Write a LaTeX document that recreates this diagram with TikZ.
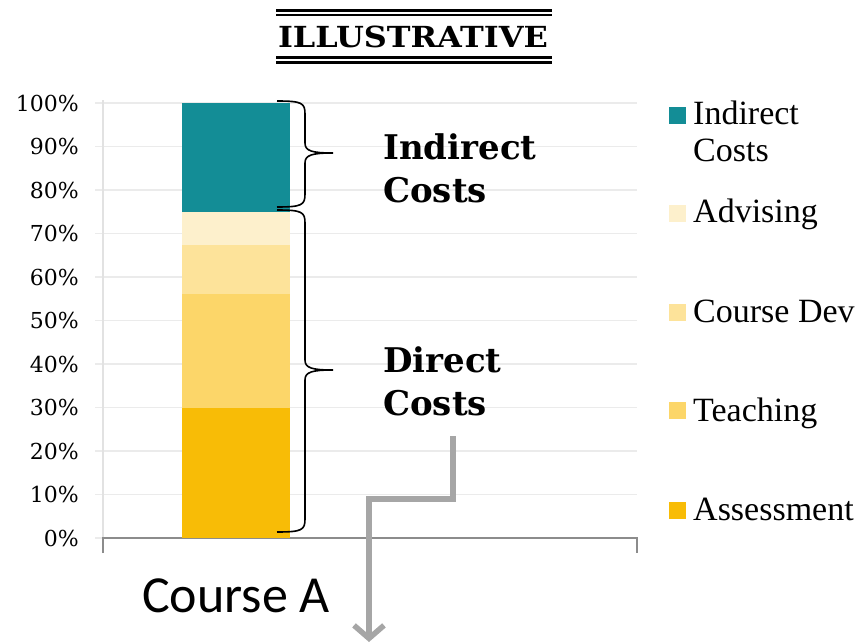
\documentclass[tikz,border=0pt]{standalone}
\usepackage{fontspec}
\setmainfont{Liberation Serif}
\newfontfamily\tickfont{DejaVu Serif}
\newfontfamily\headfont{DejaVu Serif}
\newfontfamily\titlefont[FakeStretch=1.1]{DejaVu Serif}
\newfontfamily\axisfont{Carlito}
\usetikzlibrary{arrows.meta}

\definecolor{indirect}{HTML}{138D96}
\definecolor{advising}{HTML}{FDF0CC}
\definecolor{coursedev}{HTML}{FDE39A}
\definecolor{teaching}{HTML}{FCD669}
\definecolor{assess}{HTML}{F8BC06}
\definecolor{gridgray}{HTML}{EBEBEB}
\definecolor{axisgray}{HTML}{8C8C8C}
\definecolor{arrowgray}{HTML}{A6A6A6}

\tikzset{
  ticklabel/.style={anchor=east, inner sep=0, font=\tickfont\fontsize{22}{24}\selectfont},
  legbox/.style={minimum size=17pt, inner sep=0},
  legtext/.style={anchor=base west, inner sep=0, align=left, font=\fontsize{34}{37}\selectfont},
  costlabel/.style={anchor=base west, inner sep=0, align=left, font=\headfont\bfseries\fontsize{34}{43}\selectfont},
  costbrace/.style={line width=1.6pt, black},
  leadarrow/.style={line width=5.5pt, arrowgray, -{Straight Barb[length=13pt,width=30pt]}}
}

% curly brace: top y, tip y, bottom y
\newcommand\bracepath[3]{%
  \draw[costbrace] (277,#1) .. controls (302,#1) and (305,#1+2) .. (305,#1+13)
    -- (305,#2-10) .. controls (305,#2-2) and (312,#2) .. (333,#2)
    .. controls (312,#2) and (305,#2+2) .. (305,#2+10)
    -- (305,#3-13) .. controls (305,#3-2) and (302,#3) .. (277,#3);}

\begin{document}
\begin{tikzpicture}[x=1pt, y=-1pt]
  \useasboundingbox (0,0) rectangle (859,644);

  % title with double rules
  \node[anchor=base, inner sep=0, font=\titlefont\bfseries\fontsize{29}{32}\selectfont] (title) at (413,48) {ILLUSTRATIVE};
  \draw[line width=2.6pt] (276,10.5) -- (552,10.5);
  \draw[line width=2pt] (276,15.5) -- (552,15.5);
  \draw[line width=2.4pt] (276,57.5) -- (552,57.5);
  \draw[line width=2.4pt] (276,62.5) -- (552,62.5);

  % grid and y labels
  \foreach \p in {0,10,...,100}{
    \draw[gridgray, line width=1.3pt] (95,{538-4.35*\p}) -- (637,{538-4.35*\p});
    \node[ticklabel] (tick\p) at (79,{538-4.35*\p}) {\p\%};
  }
  \draw[gridgray!80!black!20!gridgray, line width=1.5pt] (103,100) -- (103,538);
  \draw[axisgray, line width=1.5pt] (103,553) -- (103,538) -- (637,538) -- (637,553);

  % stacked bar
  \fill[assess]    (182,538) rectangle (290,{538-4.35*30});
  \fill[teaching]  (182,{538-4.35*30}) rectangle (290,{538-4.35*56.1});
  \fill[coursedev] (182,{538-4.35*56.1}) rectangle (290,{538-4.35*67.4});
  \fill[advising]  (182,{538-4.35*67.4}) rectangle (290,{538-4.35*75});
  \fill[indirect]  (182,{538-4.35*75}) rectangle (290,103);

  % braces and their labels
  \bracepath{101}{153}{207}
  \bracepath{210}{370}{532}
  \node[costlabel] (indlabel) at (383,203) {Indirect\\Costs};
  \node[costlabel] (dirlabel) at (383,415) {Direct\\Costs};

  % category label
  \node[anchor=base, inner sep=0, font=\axisfont\fontsize{52}{56}\selectfont] (course) at (236,612) {Course A};

  % legend
  \node[legbox, fill=indirect]  (key1) at (677.5,115.5) {};
  \node[legbox, fill=advising]  (key2) at (677.5,213.5) {};
  \node[legbox, fill=coursedev] (key3) at (677.5,312.5) {};
  \node[legbox, fill=teaching]  (key4) at (677.5,410.5) {};
  \node[legbox, fill=assess]    (key5) at (677.5,510.5) {};
  \node[legtext] (leg1) at (693,162) {Indirect\\Costs};
  \node[legtext] (leg2) at (693,223) {Advising};
  \node[legtext] (leg3) at (693,322) {Course Dev};
  \node[legtext] (leg4) at (693,421) {Teaching};
  \node[legtext] (leg5) at (693,520) {Assessment};

  % grey lead arrow
  \coordinate (arrow start) at (453,436);
  \coordinate (arrow end) at (369,642);
  \draw[leadarrow] (arrow start) -- ++(0,63) -| (arrow end);
\end{tikzpicture}
\end{document}
